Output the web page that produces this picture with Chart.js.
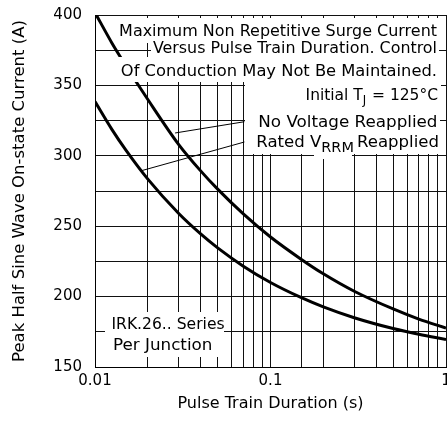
<!DOCTYPE html>
<html>
<head>
<meta charset="utf-8">
<script src="https://cdn.jsdelivr.net/npm/chart.js@4/dist/chart.umd.min.js"></script>
<style>
  html, body { margin: 0; padding: 0; background: #fff; }
  canvas { display: block; }
</style>
</head>
<body>
<canvas id="surgeChart" width="447" height="428"></canvas>
<script>
// pulse train duration (s)
const durations = [0.01, 0.0125, 0.015, 0.02, 0.03, 0.04, 0.05, 0.07, 0.1, 0.15, 0.2, 0.3, 0.5, 0.7, 1];
// peak current (A) - no voltage reapplied
const noVoltage = [401.7, 380.0, 364.0, 340.0, 308.0, 289.3, 276.3, 258.7, 242.3, 226.4, 216.2, 203.8, 191.2, 184.0, 177.7];
// peak current (A) - rated VRRM reapplied
const ratedVrrm = [338.5, 318.6, 304.0, 283.4, 259.0, 244.5, 234.6, 221.6, 210.0, 199.2, 192.7, 185.0, 177.3, 173.2, 169.6];

const xTickLabels = [0.01, 0.1, 1];
const yTickLabels = [150, 200, 250, 300, 350, 400];

// leader line anchors (duration, current)
const noVoltageLeader = [[0.0286, 316.2], [0.071, 324.2]];
const ratedLeader = [[0.0185, 289.5], [0.071, 309.8]];

const FONT = '"DejaVu Sans", sans-serif';

// draws a run of text pieces, widened/narrowed part way toward left..right
function drawRun(ctx, parts, left, right, baseline, anchorRight) {
  // parts: [text, size, dy, gapAfter]
  let total = 0;
  parts.forEach(p => {
    ctx.font = p[1] + "px " + FONT;
    total += ctx.measureText(p[0]).width + (p[3] || 0);
  });
  const sx = Math.sqrt((right - left) / total);
  ctx.save();
  ctx.translate(anchorRight ? right - total * sx : left, baseline);
  ctx.scale(sx, 1);
  let cx = 0;
  parts.forEach(p => {
    ctx.font = p[1] + "px " + FONT;
    ctx.fillText(p[0], cx, p[2]);
    cx += ctx.measureText(p[0]).width + (p[3] || 0);
  });
  ctx.restore();
}

const annotate = {
  id: "annotate",
  afterDatasetsDraw(chart) {
    const { ctx, scales: { x, y } } = chart;
    ctx.save();

    // white label backgrounds
    ctx.fillStyle = "#fff";
    const boxes = [
      [116, 18, 441, 43],
      [151, 43, 439, 57],
      [111, 57, 441, 82],
      [245, 82, 441, 112],
      [245, 112, 440, 154],
      [314, 154, 352, 159],
      [105, 312, 224, 357]
    ];
    boxes.forEach(b => ctx.fillRect(b[0], b[1], b[2] - b[0], b[3] - b[1]));

    // leader lines
    ctx.strokeStyle = "#000";
    ctx.lineWidth = 1;
    [noVoltageLeader, ratedLeader].forEach(l => {
      ctx.beginPath();
      ctx.moveTo(x.getPixelForValue(l[0][0]), y.getPixelForValue(l[0][1]));
      ctx.lineTo(x.getPixelForValue(l[1][0]), y.getPixelForValue(l[1][1]));
      ctx.stroke();
    });

    ctx.fillStyle = "#000";
    ctx.textBaseline = "alphabetic";
    ctx.textAlign = "left";
    drawRun(ctx, [["Maximum Non Repetitive Surge Current", 16, 0]], 120, 437, 36, true);
    drawRun(ctx, [["Versus Pulse Train Duration. Control", 16, 0]], 155, 437, 53, true);
    drawRun(ctx, [["Of Conduction May Not Be Maintained.", 16, 0]], 115, 437, 76, true);
    drawRun(ctx, [["Initial T", 16, 0], ["J", 12, 4, 1], [" = 125°C", 16, 0]], 310, 438, 100, true);
    drawRun(ctx, [["No Voltage Reapplied", 16, 0]], 250, 437.5, 126.5, true);
    drawRun(ctx, [["Rated V", 16, 0], ["RRM", 14, 5, 3], ["Reapplied", 16, 0]], 250, 439, 147, true);
    drawRun(ctx, [["IRK.26.. Series", 16, 0]], 111.5, 221.5, 329, false);
    drawRun(ctx, [["Per Junction", 16, 0]], 113, 217, 350, false);
    ctx.restore();
  }
};

const isDecade = v => xTickLabels.some(t => Math.abs(Math.log10(v) - Math.log10(t)) < 1e-6);

new Chart(document.getElementById("surgeChart").getContext("2d"), {
  type: "line",
  data: {
    datasets: [
      {
        label: "No Voltage Reapplied",
        data: durations.map((d, i) => ({ x: d, y: noVoltage[i] })),
        borderColor: "#000",
        borderWidth: 3,
        pointRadius: 0,
        cubicInterpolationMode: "monotone"
      },
      {
        label: "Rated VRRM Reapplied",
        data: durations.map((d, i) => ({ x: d, y: ratedVrrm[i] })),
        borderColor: "#000",
        borderWidth: 3,
        pointRadius: 0,
        cubicInterpolationMode: "monotone"
      }
    ]
  },
  options: {
    responsive: false,
    animation: false,
    devicePixelRatio: 1,
    layout: { padding: { left: 0, top: 15, right: 1, bottom: 0 } },
    plugins: { legend: { display: false }, tooltip: { enabled: false } },
    scales: {
      x: {
        type: "logarithmic",
        min: 0.01,
        max: 1,
        grid: { color: "#111", lineWidth: 1, drawTicks: false },
        border: { color: "#000", width: 1 },
        ticks: {
          autoSkip: false,
          maxRotation: 0,
          padding: 5,
          color: "#000",
          font: { family: FONT, size: 15 },
          callback: v => isDecade(v) ? String(v) : ""
        },
        title: {
          display: true,
          text: "Pulse Train Duration (s)",
          color: "#000",
          font: { family: FONT, size: 16 },
          padding: { top: 0, bottom: 15 }
        },
        afterFit: s => { s.height = 61; s.paddingLeft = 0; s.paddingRight = 0; }
      },
      y: {
        min: 150,
        max: 400,
        grid: { color: "#111", lineWidth: 1, drawTicks: false },
        border: { color: "#000", width: 1 },
        ticks: {
          stepSize: 25,
          padding: 13,
          color: "#000",
          font: { family: FONT, size: 15 },
          callback: v => yTickLabels.includes(v) ? String(v) : ""
        },
        title: {
          display: true,
          text: "Peak Half Sine Wave On-state Current (A)",
          color: "#000",
          font: { family: FONT, size: 16.5 },
          padding: { top: 10, bottom: 0 }
        },
        afterFit: s => { s.width = 95; s.paddingTop = 0; s.paddingBottom = 0; }
      }
    }
  },
  plugins: [annotate]
});
</script>
</body>
</html>
